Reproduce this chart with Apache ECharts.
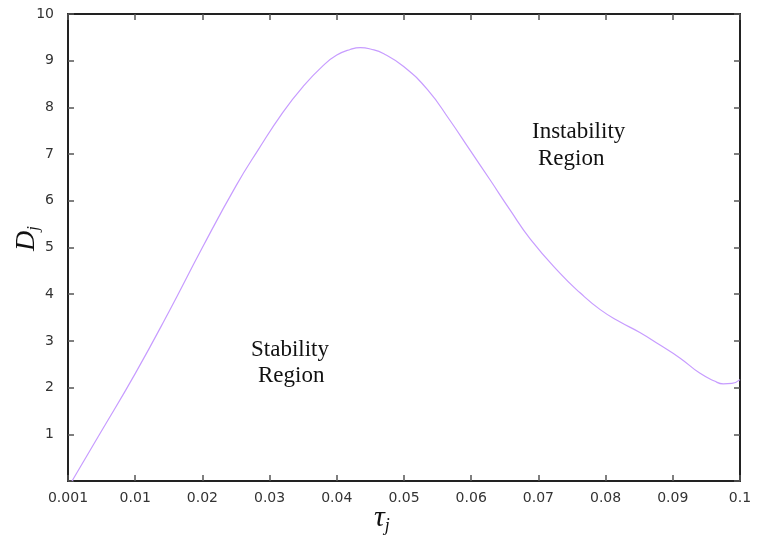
<!DOCTYPE html>
<html>
<head>
<meta charset="utf-8">
<script src="https://cdn.jsdelivr.net/npm/echarts@6/dist/echarts.min.js"></script>
<style>
  html, body { margin: 0; padding: 0; background: #fff; }
  #main { width: 759px; height: 542px; }
</style>
</head>
<body>
<div id="main"></div>
<script>
// tau_j values (x) and D_j values (y)
var tauVals = [0.0006, 0.0047, 0.01, 0.015, 0.02, 0.025, 0.0283, 0.032, 0.035, 0.038, 0.04, 0.042,
  0.0435, 0.045, 0.047, 0.05, 0.0535, 0.0568, 0.0598, 0.0628, 0.0658, 0.0688, 0.0732, 0.0762,
  0.0792, 0.0821, 0.0851, 0.0881, 0.0911, 0.094, 0.0962, 0.0975, 0.0988, 0.1];
var dVals = [0, 1.0, 2.3, 3.62, 5.0, 6.32, 7.09, 7.9, 8.45, 8.9, 9.12, 9.24,
  9.28, 9.25, 9.15, 8.87, 8.38, 7.73, 7.09, 6.45, 5.80, 5.18, 4.45, 4.03,
  3.67, 3.41, 3.18, 2.91, 2.63, 2.31, 2.14, 2.08, 2.09, 2.17];
var xTickLabels = ['0.001', '0.01', '0.02', '0.03', '0.04', '0.05', '0.06', '0.07', '0.08', '0.09', '0.1'];
var yTickLabels = ['', '1', '2', '3', '4', '5', '6', '7', '8', '9', '10'];

var data = tauVals.map(function (t, i) { return [t, dVals[i]]; });

var axisLine = { show: true, onZero: false, lineStyle: { color: '#222', width: 2 } };
var tick = { show: true, inside: true, length: 6, lineStyle: { color: '#555', width: 1.5 } };

var serif = 'Liberation Serif';
var chart = echarts.init(document.getElementById('main'));
var option = {
  animation: false,
  grid: { left: 68, right: 19, top: 14, bottom: 61 },
  xAxis: [{
    type: 'value', min: 0, max: 0.1, interval: 0.01,
    axisLine: axisLine, axisTick: tick, splitLine: { show: false },
    axisLabel: {
      color: '#333', fontFamily: 'DejaVu Sans', fontSize: 14, margin: 10,
      formatter: function (v) { return xTickLabels[Math.round(v * 100)]; }
    }
  }, {
    type: 'value', position: 'top', min: 0, max: 0.1, interval: 0.01,
    axisLine: axisLine, axisTick: tick, axisLabel: { show: false }, splitLine: { show: false }
  }],
  yAxis: [{
    type: 'value', min: 0, max: 10, interval: 1,
    axisLine: axisLine, axisTick: tick, splitLine: { show: false },
    axisLabel: {
      color: '#333', fontFamily: 'DejaVu Sans', fontSize: 14, margin: 14,
      formatter: function (v) { return yTickLabels[Math.round(v)]; }
    }
  }, {
    type: 'value', position: 'right', min: 0, max: 10, interval: 1,
    axisLine: axisLine, axisTick: tick, axisLabel: { show: false }, splitLine: { show: false }
  }],
  graphic: [
    {
      type: 'text', left: 13, top: 226,
      rotation: Math.PI / 2,
      style: {
        text: '{m|D}{s|j}',
        rich: {
          m: { fontFamily: serif, fontStyle: 'italic', fontSize: 28, fill: '#111' },
          s: { fontFamily: serif, fontStyle: 'italic', fontSize: 17, fill: '#111', padding: [14, 0, 0, 0] }
        }
      }
    },
    {
      type: 'text', left: 374, top: 503,
      style: {
        text: '{m|τ}{s|j}',
        rich: {
          m: { fontFamily: serif, fontStyle: 'italic', fontSize: 30, fill: '#111' },
          s: { fontFamily: serif, fontStyle: 'italic', fontSize: 18, fill: '#111', padding: [16, 0, 0, 0] }
        }
      }
    },
    { type: 'text', left: 251, top: 338, style: { text: 'Stability', fontFamily: serif, fontSize: 23, fill: '#111' } },
    { type: 'text', left: 258, top: 364, style: { text: 'Region', fontFamily: serif, fontSize: 23, fill: '#111' } },
    { type: 'text', left: 532, top: 120, style: { text: 'Instability', fontFamily: serif, fontSize: 23, fill: '#111' } },
    { type: 'text', left: 538, top: 147, style: { text: 'Region', fontFamily: serif, fontSize: 23, fill: '#111' } }
  ],
  series: [{
    type: 'line', data: data, smooth: 0.5, showSymbol: false,
    lineStyle: { color: '#c79cff', width: 1.2 }
  }]
};
chart.setOption(option);
</script>
</body>
</html>
